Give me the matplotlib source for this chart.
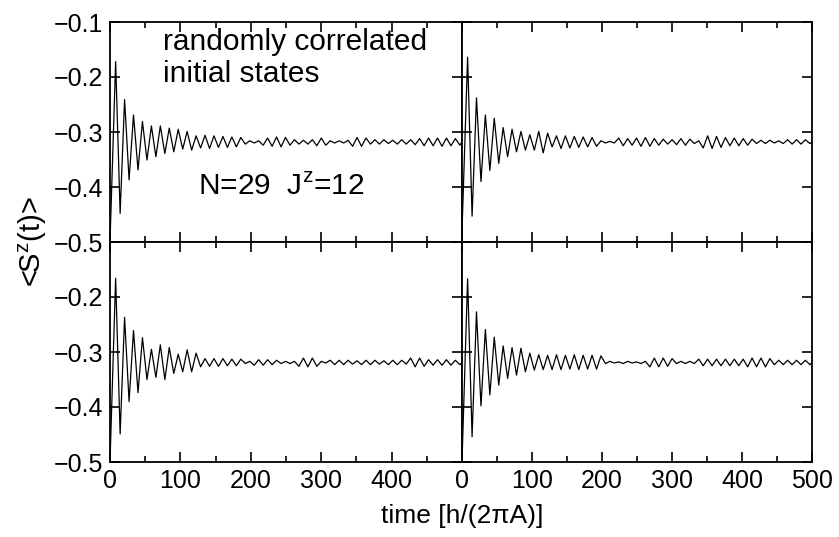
import matplotlib
matplotlib.use('Agg')
import matplotlib.pyplot as plt
from matplotlib.ticker import MultipleLocator

plt.rcParams['font.family'] = ['Liberation Sans', 'DejaVu Sans']

# times of the extrema, with start and end points
t_ext = [0.0,
         8.0, 14.4, 20.7, 27.1, 33.4, 39.8, 46.1, 52.5, 58.8, 65.2,
         71.5, 77.9, 84.2, 90.6, 96.9, 103.3, 109.6, 116.0, 122.3, 128.7,
         135.0, 141.4, 147.7, 154.1, 160.4, 166.8, 173.1, 179.5, 185.8, 192.2,
         198.5, 204.9, 211.2, 217.6, 223.9, 230.3, 236.6, 243.0, 249.3, 255.7,
         262.0, 268.4, 274.7, 281.1, 287.4, 293.8, 300.1, 306.5, 312.8, 319.2,
         325.5, 331.9, 338.2, 344.6, 350.9, 357.3, 363.6, 370.0, 376.3, 382.7,
         389.0, 395.4, 401.7, 408.1, 414.4, 420.8, 427.1, 433.5, 439.8, 446.2,
         452.5, 458.9, 465.2, 471.6, 477.9, 484.3, 490.6, 497.0,
         500.0]

sz_top_left = [-0.5,
    -0.172, -0.448, -0.241, -0.387, -0.269, -0.369, -0.281, -0.351, -0.289, -0.345,
    -0.289, -0.339, -0.293, -0.336, -0.295, -0.331, -0.299, -0.333,
    -0.307, -0.329, -0.306, -0.330, -0.307, -0.328, -0.308, -0.328, -0.309, -0.327, -0.310,
    -0.322, -0.316, -0.320, -0.316,
    -0.324, -0.311, -0.326, -0.309, -0.327, -0.310, -0.324,
    -0.314, -0.322, -0.315, -0.322, -0.314,
    -0.325, -0.311, -0.324,
    -0.316, -0.320, -0.316, -0.320, -0.315,
    -0.326, -0.310, -0.326, -0.311,
    -0.322, -0.314, -0.322, -0.314, -0.321, -0.315, -0.322, -0.314, -0.322, -0.314, -0.323,
    -0.312, -0.325, -0.311, -0.325, -0.311, -0.326, -0.311, -0.325, -0.312, -0.324,
    -0.318]

sz_top_right = [-0.48,
    -0.164, -0.453, -0.238, -0.390, -0.269, -0.370, -0.275, -0.357, -0.292, -0.345,
    -0.295, -0.336, -0.299, -0.333, -0.305, -0.333, -0.299, -0.338, -0.302, -0.327,
    -0.307, -0.330, -0.307, -0.329, -0.308, -0.328, -0.309, -0.327, -0.310, -0.326,
    -0.316, -0.320, -0.317, -0.320,
    -0.311, -0.325, -0.312, -0.324, -0.311, -0.326, -0.310, -0.326, -0.312, -0.324,
    -0.313, -0.322, -0.314, -0.323, -0.312, -0.324, -0.313, -0.321,
    -0.316,
    -0.329, -0.307, -0.330, -0.308, -0.328, -0.310,
    -0.325, -0.311, -0.325, -0.312, -0.324, -0.313,
    -0.321, -0.315, -0.321, -0.315, -0.320, -0.316, -0.321,
    -0.314, -0.322, -0.314, -0.322, -0.314, -0.321,
    -0.318]

sz_bottom_left = [-0.5,
    -0.166, -0.449, -0.237, -0.390, -0.261, -0.374, -0.274, -0.350, -0.295, -0.346,
    -0.287, -0.350, -0.292, -0.339, -0.304, -0.336, -0.296, -0.336, -0.302, -0.327,
    -0.312, -0.326, -0.312, -0.326, -0.312, -0.325, -0.313, -0.325, -0.313,
    -0.321, -0.317,
    -0.324, -0.314, -0.324, -0.314, -0.323, -0.315,
    -0.321, -0.317, -0.321, -0.317,
    -0.326, -0.311, -0.327, -0.311, -0.326,
    -0.317, -0.320,
    -0.315, -0.323, -0.315, -0.323, -0.315, -0.322, -0.316, -0.323, -0.315, -0.323,
    -0.315, -0.322, -0.316, -0.323, -0.315, -0.323, -0.315, -0.322,
    -0.311, -0.327, -0.311, -0.326,
    -0.314, -0.324, -0.314, -0.324, -0.314, -0.324, -0.315, -0.323,
    -0.319]

sz_bottom_right = [-0.5,
    -0.167, -0.454, -0.227, -0.398, -0.259, -0.378, -0.273, -0.360, -0.289, -0.348,
    -0.292, -0.342, -0.293, -0.336, -0.302, -0.333,
    -0.305, -0.332, -0.306, -0.332, -0.305, -0.332, -0.306, -0.331, -0.305, -0.332,
    -0.306, -0.331, -0.306, -0.331, -0.307,
    -0.321, -0.317, -0.320, -0.318, -0.321, -0.317, -0.320, -0.318, -0.321, -0.317,
    -0.327, -0.311, -0.327, -0.311, -0.326, -0.312,
    -0.321, -0.317, -0.321, -0.317, -0.321,
    -0.313, -0.325, -0.313, -0.325, -0.313, -0.325, -0.313, -0.325, -0.313, -0.325, -0.313,
    -0.327, -0.311, -0.327, -0.311, -0.327, -0.312,
    -0.323, -0.315, -0.323, -0.315, -0.323, -0.315, -0.323, -0.315, -0.323,
    -0.319]

fig = plt.figure(figsize=(8.39, 5.37), dpi=100)
W, H = 839.0, 537.0
x0, xm, x1 = 110, 462, 812
yt, ym, yb = 22, 242, 462
fs = 18

def panel(left, right, top, bottom):
    return fig.add_axes([left / W, 1 - bottom / H, (right - left) / W, (bottom - top) / H])

ax_tl = panel(x0, xm, yt, ym)
ax_tr = panel(xm, x1, yt, ym)
ax_bl = panel(x0, xm, ym, yb)
ax_br = panel(xm, x1, ym, yb)

for ax, sz in [(ax_tl, sz_top_left), (ax_tr, sz_top_right),
               (ax_bl, sz_bottom_left), (ax_br, sz_bottom_right)]:
    ax.plot(t_ext, sz, color='black', lw=0.9)
    ax.set_xlim(0, 500)
    ax.set_ylim(-0.5, -0.1)
    ax.xaxis.set_major_locator(MultipleLocator(100))
    ax.xaxis.set_minor_locator(MultipleLocator(50))
    ax.yaxis.set_major_locator(MultipleLocator(0.1))
    ax.tick_params(which='both', direction='in', top=True, right=True,
                   labelsize=fs, width=1.2, pad=5)
    ax.tick_params(which='major', length=7)
    ax.tick_params(which='minor', length=4)
    for s in ax.spines.values():
        s.set_linewidth(1.3)

ax_tl.tick_params(labelbottom=False)
ax_tr.tick_params(labelbottom=False, labelleft=False)
ax_br.tick_params(labelleft=False)
ax_tl.set_yticks([-0.5, -0.4, -0.3, -0.2, -0.1])
ax_tl.set_yticklabels(['−0.5', '−0.4', '−0.3', '−0.2', '−0.1'])
ax_bl.set_yticks([-0.5, -0.4, -0.3, -0.2, -0.1])
ax_bl.set_yticklabels(['−0.5', '−0.4', '−0.3', '−0.2', ''])
ax_bl.set_xticks([0, 100, 200, 300, 400, 500])
ax_bl.set_xticklabels(['0', '100', '200', '300', '400', ''])

ax_tl.text(0.15, 0.975, 'randomly correlated\ninitial states', transform=ax_tl.transAxes,
           fontsize=21.5, va='top', ha='left', linespacing=1.2)
ax_tl.text(0.25, 0.25, r'N=29  J$^{\mathregular{z}}$=12', transform=ax_tl.transAxes,
           fontsize=21.5, va='center', ha='left')

fig.text(33 / W, 1 - ym / H, r'<S$^{\mathregular{z}}$(t)>', rotation=90,
         fontsize=21, ha='center', va='center')
fig.text(xm / W, 1 - 516 / H, 'time [h/(2πA)]', fontsize=19, ha='center', va='center')

fig.savefig('out.png', dpi=100)
